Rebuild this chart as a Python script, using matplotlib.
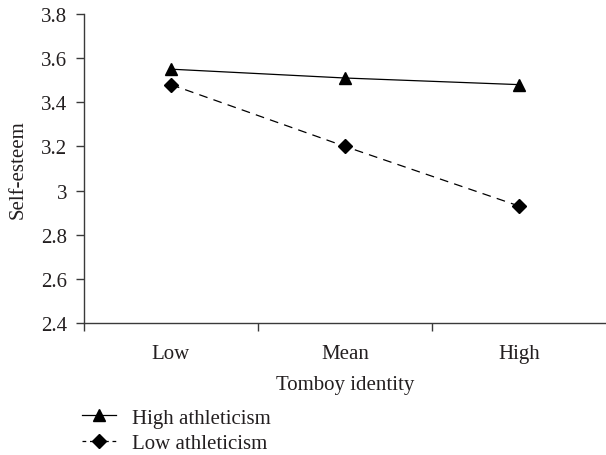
import matplotlib.pyplot as plt

plt.rcParams['font.family'] = ['Liberation Serif', 'DejaVu Serif']

# data
categories = ['Low', 'Mean', 'High']
high_athl = [3.55, 3.51, 3.48]
low_athl = [3.48, 3.20, 2.93]
yticks = [2.4, 2.6, 2.8, 3.0, 3.2, 3.4, 3.6, 3.8]
ytick_labels = ['2.4', '2.6', '2.8', '3', '3.2', '3.4', '3.6', '3.8']

txt = '#231f20'
fs = 15

fig = plt.figure(figsize=(6.06, 4.56), dpi=100)
ax = fig.add_axes([84 / 606, 1 - 324 / 456, 1 - 84 / 606, (324 - 15) / 456])

x = list(range(len(categories)))
ax.plot(x, high_athl, color='black', lw=0.9, marker='^', ms=9,
        label='High athleticism')
ax.plot(x, low_athl, color='black', lw=0.9, marker='D', ms=7,
        dashes=(7, 5), label='Low athleticism')

ax.set_xlim(-0.5, 2.5)
ax.set_ylim(2.4, 3.8)
ax.set_yticks(yticks)
ax.set_yticklabels(ytick_labels)
ax.set_xticks(x)
ax.set_xticklabels(categories)
ax.set_xticks([-0.5, 0.5, 1.5], minor=True)

for s in ['top', 'right']:
    ax.spines[s].set_visible(False)
for s in ['left', 'bottom']:
    ax.spines[s].set_color('#3a3a3a')
    ax.spines[s].set_linewidth(1.0)

ax.tick_params(axis='y', direction='out', length=6, width=1.0, color='#3a3a3a',
               labelsize=fs, labelcolor=txt, pad=6)
ax.tick_params(axis='x', which='major', length=0, labelsize=fs, labelcolor=txt, pad=15)
ax.tick_params(axis='x', which='minor', direction='out', length=6, width=1.0,
               color='#3a3a3a')

ax.set_xlabel('Tomboy identity', fontsize=fs, color=txt, labelpad=9)
ax.set_ylabel('Self-esteem', fontsize=fs, color=txt, labelpad=10)

leg = fig.legend(loc='upper left', bbox_to_anchor=(82 / 606, 1 - 409 / 456),
                 frameon=False, fontsize=fs, handlelength=1.65,
                 handletextpad=0.75, labelspacing=0.28, borderaxespad=0,
                 borderpad=0)
for t in leg.get_texts():
    t.set_color(txt)
leg.get_lines()[1].set_dashes((3, 3))

fig.savefig('out.png', dpi=100)
